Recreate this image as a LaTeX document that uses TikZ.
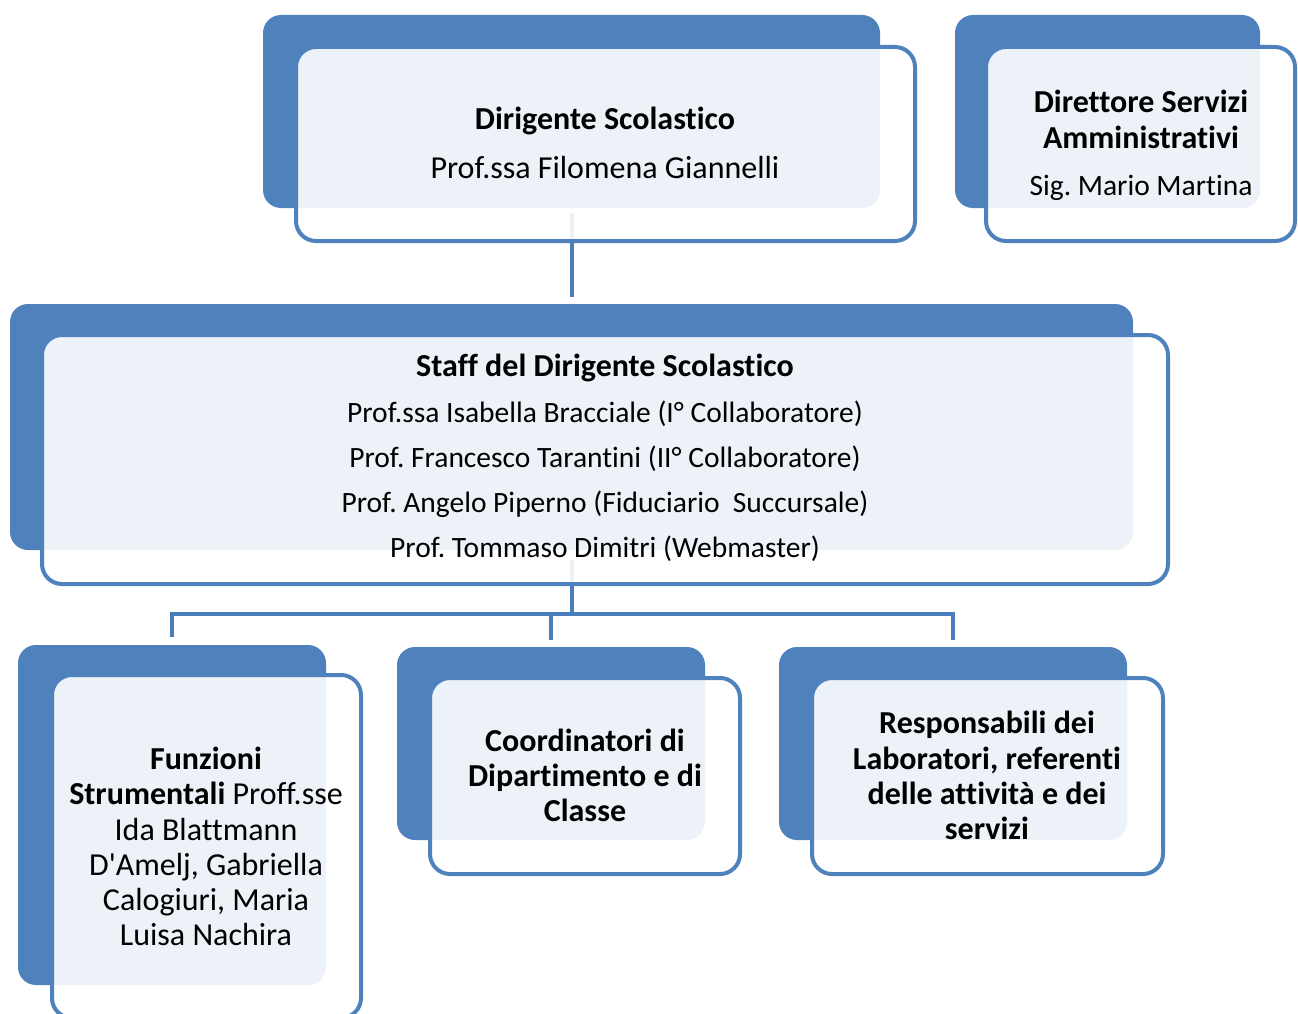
\documentclass[tikz,border=0pt]{standalone}
\usepackage{fontspec}
\setmainfont{Carlito}[Ligatures={NoCommon}]
\frenchspacing
\definecolor{boxblue}{HTML}{4F81BD}
\definecolor{lineblue}{HTML}{4A7EBB}
\tikzset{
  backbox/.style={rectangle, fill=boxblue, draw=none, rounded corners=18pt, inner sep=0pt},
  frontbox/.style={rectangle, draw=boxblue, line width=4pt, fill=white, fill opacity=0.9, rounded corners=20pt, inner sep=0pt},
  conn/.style={draw=lineblue, line width=4pt},
  txt/.style={inner sep=0pt, anchor=base, font=\fontsize{32}{36}\selectfont, text=black},
  txtb/.style={txt, font=\fontsize{32}{36}\selectfont\bfseries},
  txts/.style={txt, font=\fontsize{29.5}{34}\selectfont}
}
\begin{document}
\begin{tikzpicture}[x=1pt, y=-1pt]
\useasboundingbox (0,0) rectangle (1298,1014);
\clip (0,0) rectangle (1298,1014);
% back boxes
\node[backbox, minimum width=617pt, minimum height=193pt] (dirA) at (571.5,111.5) {};
\node[backbox, minimum width=305pt, minimum height=193pt] (dsaA) at (1107.5,111.5) {};
\node[backbox, minimum width=1123pt, minimum height=246pt] (staffA) at (571.5,427) {};
\node[backbox, minimum width=308pt, minimum height=340pt] (funA) at (172,815) {};
\node[backbox, minimum width=308pt, minimum height=193pt] (cooA) at (551,743.5) {};
\node[backbox, minimum width=348pt, minimum height=193pt] (resA) at (953,743.5) {};
% connectors
\coordinate (hub) at (571.5,614);
\draw[conn] ([yshift=-5pt]dirA.south) -- ([yshift=7pt]staffA.north);
\draw[conn] ([yshift=-10pt]staffA.south) -- (hub);
\draw[conn] (hub) -| ([yshift=8pt]funA.north);
\draw[conn] (hub) -| ([yshift=7pt]cooA.north);
\draw[conn] (hub) -| ([yshift=7pt]resA.north);
% front boxes
\node[frontbox, minimum width=619pt, minimum height=194pt] (dirB) at (605.5,144) {};
\node[frontbox, minimum width=309pt, minimum height=194pt] (dsaB) at (1140.5,144) {};
\node[frontbox, minimum width=1126pt, minimum height=249pt] (staffB) at (605,459.5) {};
\node[frontbox, minimum width=309pt, minimum height=343pt] (funB) at (206.5,846.5) {};
\node[frontbox, minimum width=310pt, minimum height=196pt] (cooB) at (585,776) {};
\node[frontbox, minimum width=351pt, minimum height=196pt] (resB) at (987.5,776) {};
% texts
\node[txtb] (dir1) at (605,130) {Dirigente Scolastico};
\node[txt] (dir2) at (605,178) {Prof.ssa Filomena Giannelli};
\node[txtb] (dsa1) at (1141,113) {Direttore Servizi};
\node[txtb] (dsa2) at (1141,149) {Amministrativi};
\node[txts] (dsa3) at (1141,195) {Sig. Mario Martina};
\node[txtb] (st1) at (605,376) {Staff del Dirigente Scolastico};
\node[txts] (st2) at (605,422) {Prof.ssa Isabella Bracciale (I° Collaboratore)};
\node[txts] (st3) at (605,467) {Prof. Francesco Tarantini (II° Collaboratore)};
\node[txts] (st4) at (605,512) {Prof. Angelo Piperno (Fiduciario\ \ Succursale)};
\node[txts] (st5) at (605,557) {Prof. Tommaso Dimitri (Webmaster)};
\node[txtb] (fun1) at (206,769) {Funzioni};
\node[txt] (fun2) at (206,804) {\textbf{Strumentali} Proff.sse};
\node[txt] (fun3) at (206,840) {Ida Blattmann};
\node[txt] (fun4) at (206,875) {D\textquotesingle Amelj, Gabriella};
\node[txt] (fun5) at (206,910) {Calogiuri, Maria};
\node[txt] (fun6) at (206,945) {Luisa Nachira};
\node[txtb] (coo1) at (585,751) {Coordinatori di};
\node[txtb] (coo2) at (585,786) {Dipartimento e di};
\node[txtb] (coo3) at (585,821) {Classe};
\node[txtb] (res1) at (987,733) {Responsabili dei};
\node[txtb] (res2) at (987,769) {Laboratori, referenti};
\node[txtb] (res3) at (987,804) {delle attività e dei};
\node[txtb] (res4) at (987,839) {servizi};
\end{tikzpicture}
\end{document}
